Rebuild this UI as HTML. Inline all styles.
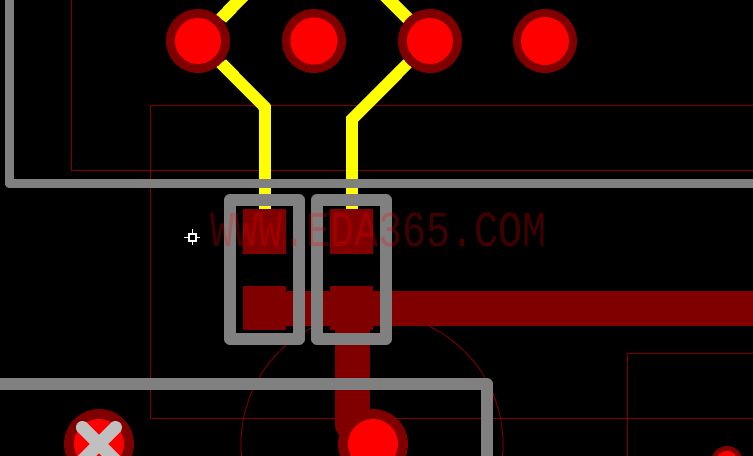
<!DOCTYPE html>
<html>
<head>
<meta charset="utf-8">
<style>
html,body{margin:0;padding:0;background:#000;width:753px;height:456px;overflow:hidden}
svg{display:block}
</style>
</head>
<body>
<svg width="753" height="456" viewBox="0 0 753 456" xmlns="http://www.w3.org/2000/svg">
<rect width="753" height="456" fill="#000"/>
<g shape-rendering="crispEdges">
<!-- thin outlines -->
<g fill="none" stroke="#800000" stroke-width="1">
<path d="M71.5 0V170.5H753"/>
<path d="M753 105.5H150.5V418.5H753"/>
<path d="M753 353.5H627.5V456"/>
<path d="M241.55 456A131 131 0 1 1 502.45 456"/>
</g>
<!-- yellow traces -->
<g fill="#ffff00">
<polygon points="230,0 248.3,0 226,22.7 216,15"/>
<polygon points="380,0 398,0 413.3,15.3 403.3,23.3"/>
<polygon points="226,59.3 271,105 271,209 259,209 259,110 216,66.7"/>
<polygon points="346,117 403.5,59.3 411.7,67.7 358,122 358,209 346,209"/>
</g>
<!-- dark red copper -->
<g fill="#800000">
<rect x="243" y="209" width="43" height="45"/>
<rect x="330" y="209" width="43" height="45"/>
<rect x="243" y="286" width="43" height="44"/>
<rect x="330" y="286" width="43" height="44"/>
<rect x="286" y="291" width="467" height="35"/>
</g>
<path d="M352.5 326V424L373 444" fill="none" stroke="#800000" stroke-width="35" stroke-linejoin="round"/>
<!-- vias -->
<g fill="#800000">
<circle cx="198" cy="41" r="32"/>
<circle cx="314" cy="41" r="32"/>
<circle cx="430" cy="41" r="32"/>
<circle cx="545" cy="41" r="32"/>
<path d="M340.12 456A35 35 0 1 1 405.88 456Z"/>
<path d="M66.12 456A35 35 0 1 1 131.88 456Z"/>
<path d="M712.17 456A16 16 0 0 1 741.83 456Z"/>
</g>
<g fill="#ff0000">
<circle cx="198" cy="41" r="23"/>
<circle cx="314" cy="41" r="23.5"/>
<circle cx="430" cy="41" r="23"/>
<circle cx="545" cy="41" r="24"/>
<path d="M351.07 456A25 25 0 1 1 394.93 456Z"/>
<path d="M77.07 456A25 25 0 1 1 120.93 456Z"/>
<path d="M717.78 456A11 11 0 0 1 736.22 456Z"/>
</g>
<!-- grey silkscreen -->
<g fill="none" stroke="#808080" stroke-linejoin="round">
<path d="M9.5 0V183.5H753" stroke-width="9"/>
<path d="M0 384H487V456" stroke-width="12"/>
<rect x="230" y="200" width="69" height="139" stroke-width="12"/>
<rect x="317" y="200" width="69" height="139" stroke-width="12"/>
</g>
<!-- cross -->
<g fill="#c0c0c0">
<polygon points="87.1,422.9 120.2,456 101.8,456 77.9,432.1"/>
<polygon points="110.9,422.9 77.8,456 96.2,456 120.1,432.1"/>
<circle cx="82.5" cy="427.5" r="6.5"/>
<circle cx="115.5" cy="427.5" r="6.5"/>
</g>
<!-- origin marker -->
<g fill="none" stroke="#fff">
<rect x="189" y="234" width="7" height="7" stroke-width="2"/>
<path d="M184 237.5H188M197 237.5H200M192.5 229V233M192.5 242V245" stroke-width="1"/>
</g>
</g>
<!-- watermark -->
<text transform="translate(210 246) scale(1 1.25)" x="0" y="0" font-family="'Liberation Mono',monospace" font-size="40" fill="#ff0000" fill-opacity="0.25">WWW.EDA365.COM</text>
</svg>
</body>
</html>
